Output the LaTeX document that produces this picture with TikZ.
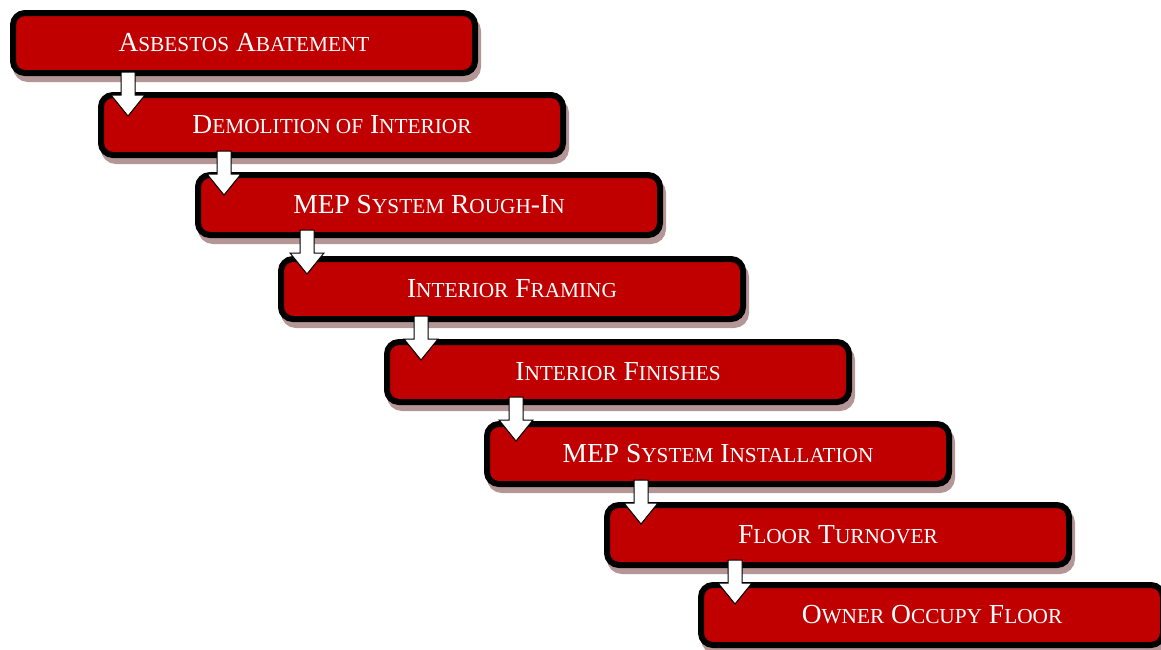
\documentclass[tikz,border=0pt]{standalone}
\usepackage{fontspec}
\setmainfont{Liberation Serif}
\usetikzlibrary{shadows,calc}

\definecolor{stepred}{RGB}{192,0,0}
\definecolor{stepshadow}{RGB}{180,150,150}

% fake small caps: first letter big, rest smaller
\newcommand{\smc}[1]{{\fontsize{21.3}{25}\selectfont #1}}

\tikzset{
  stepbox/.style={draw=black, line width=6pt, fill=stepred, rounded corners=12pt,
    minimum width=462pt, minimum height=60pt, inner sep=0pt, text=white,
    font=\fontsize{27.5}{32}\selectfont,
    drop shadow={shadow xshift=3pt, shadow yshift=-6pt, fill=stepshadow,
      draw=stepshadow, line width=6pt, opacity=1}},
  downarrow/.style={draw=black, line width=1pt, fill=white, line join=miter}
}

\begin{document}
\begin{tikzpicture}[x=1pt,y=-1pt]
	  \useasboundingbox (0,0) rectangle (1161,649);

	  \node [stepbox] (b1) at (244,43) {A\smc{SBESTOS} A\smc{BATEMENT}};
	  \node [stepbox] (b2) at (332,125) {D\smc{EMOLITION OF} I\smc{NTERIOR}};
	  \node [stepbox] (b3) at (429,205) {MEP S\smc{YSTEM} R\smc{OUGH}-I\smc{N}};
	  \node [stepbox] (b4) at (512,289) {I\smc{NTERIOR} F\smc{RAMING}};
	  \node [stepbox] (b5) at (618,372) {I\smc{NTERIOR} F\smc{INISHES}};
	  \node [stepbox] (b6) at (718,454) {MEP S\smc{YSTEM} I\smc{NSTALLATION}};
	  \node [stepbox] (b7) at (838,535) {F\smc{LOOR} T\smc{URNOVER}};
	  \node [stepbox] (b8) at (932,615) {O\smc{WNER} O\smc{CCUPY} F\smc{LOOR}};

	  % tails of the down arrows
	  \coordinate (a1) at ($(b1.south west)+(118,-4)$);
	  \coordinate (a2) at ($(b2.south west)+(126,-7)$);
	  \coordinate (a3) at ($(b3.south west)+(112,-8)$);
	  \coordinate (a4) at ($(b4.south west)+(143,-6)$);
	  \coordinate (a5) at ($(b5.south west)+(132,-8)$);
	  \coordinate (a6) at ($(b6.south west)+(157,-7)$);
	  \coordinate (a7) at ($(b7.south west)+(131,-8)$);

	  \draw [downarrow] (a1) ++(-7,0) -- ++(0,23) -- ++(-10,0) -- ++(17,21) -- ++(17,-21) -- ++(-10,0) -- ++(0,-23) -- cycle;
	  \draw [downarrow] (a2) ++(-7,0) -- ++(0,23) -- ++(-10,0) -- ++(17,21) -- ++(17,-21) -- ++(-10,0) -- ++(0,-23) -- cycle;
	  \draw [downarrow] (a3) ++(-7,0) -- ++(0,23) -- ++(-10,0) -- ++(17,21) -- ++(17,-21) -- ++(-10,0) -- ++(0,-23) -- cycle;
	  \draw [downarrow] (a4) ++(-7,0) -- ++(0,23) -- ++(-10,0) -- ++(17,21) -- ++(17,-21) -- ++(-10,0) -- ++(0,-23) -- cycle;
	  \draw [downarrow] (a5) ++(-7,0) -- ++(0,23) -- ++(-10,0) -- ++(17,21) -- ++(17,-21) -- ++(-10,0) -- ++(0,-23) -- cycle;
	  \draw [downarrow] (a6) ++(-7,0) -- ++(0,23) -- ++(-10,0) -- ++(17,21) -- ++(17,-21) -- ++(-10,0) -- ++(0,-23) -- cycle;
	  \draw [downarrow] (a7) ++(-7,0) -- ++(0,23) -- ++(-10,0) -- ++(17,21) -- ++(17,-21) -- ++(-10,0) -- ++(0,-23) -- cycle;
	\end{tikzpicture}
\end{document}
